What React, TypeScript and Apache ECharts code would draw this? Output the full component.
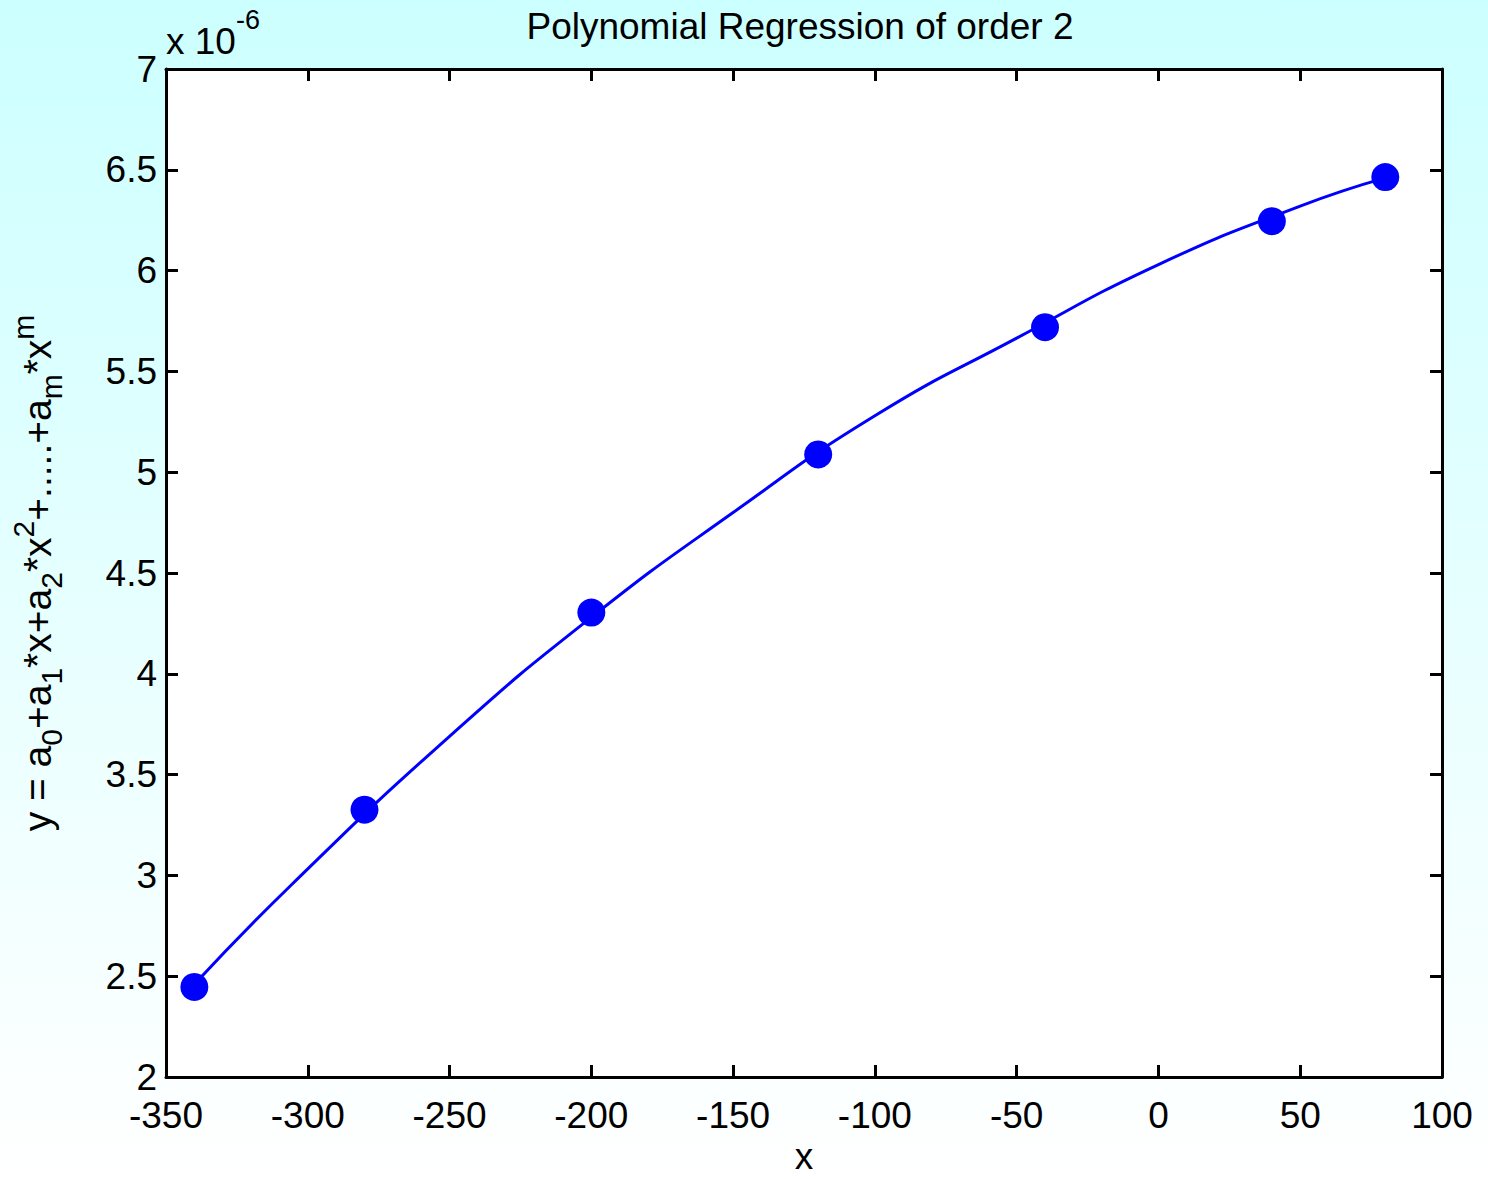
import React, { useEffect, useRef } from "react";
import * as echarts from "echarts";

const titleText = "Polynomial Regression of order 2";
const xTicks = [-350, 100, 50];
const yTicks = [2, 7, 0.5];
const dataX = [-340, -280, -200, -120, -40, 40, 80];
const dataY = [2.447, 3.326, 4.304, 5.088, 5.719, 6.245, 6.464];
const curveX = [-340, -306, -250, -200, -150, -100, -50, 0, 50, 80];
const curveY = [2.46, 2.95, 3.69, 4.28, 4.8, 5.28, 5.665, 6.03, 6.32, 6.46];

const FONT = "'Liberation Sans', Arial, sans-serif";
const FS = 37;

export default function App() {
  const ref = useRef<HTMLDivElement>(null);
  useEffect(() => {
    const chart = echarts.init(ref.current!, null, { renderer: "svg" });
    const tickStyle = { show: true, inside: true, length: 12, lineStyle: { color: "#000", width: 3 } };
    const axisLine = { show: true, onZero: false, lineStyle: { color: "#000", width: 3 } };
    chart.setOption({
      animation: false,
      backgroundColor: {
        type: "linear", x: 0, y: 0, x2: 0, y2: 1,
        colorStops: [
          { offset: 0, color: "#ccffff" },
          { offset: 1, color: "#ffffff" },
        ],
      },
      grid: {
        left: 166, right: 46, top: 69, bottom: 102,
        outerBoundsMode: "none", containLabel: false,
        show: true, backgroundColor: "#ffffff", borderWidth: 0,
      },
      graphic: [
        {
          type: "text", x: 800, y: 8,
          style: { text: titleText, fill: "#000", font: `${FS}px ${FONT}`, textAlign: "center" },
        },
        {
          type: "text", x: 166, y: 6,
          style: {
            text: "x 10{sup|-6}", fill: "#000", font: `${FS}px ${FONT}`,
            rich: { sup: { fontSize: 27, fontFamily: FONT, fill: "#000", padding: [0, 0, 44, 0] } },
          },
        },
      ],
      xAxis: [
        {
          type: "value", min: xTicks[0], max: xTicks[1], interval: xTicks[2],
          axisLine, axisTick: tickStyle, splitLine: { show: false },
          axisLabel: { color: "#000", fontSize: FS, fontFamily: FONT, margin: 23, lineHeight: 30 },
          name: "x", nameLocation: "middle", nameGap: 65,
          nameTextStyle: { color: "#000", fontSize: FS, fontFamily: FONT, lineHeight: 28 },
        },
        {
          type: "value", position: "top", min: xTicks[0], max: xTicks[1], interval: xTicks[2],
          axisLine, axisTick: tickStyle, splitLine: { show: false }, axisLabel: { show: false },
        },
      ],
      yAxis: [
        {
          type: "value", min: yTicks[0], max: yTicks[1], interval: yTicks[2],
          axisLine, axisTick: tickStyle, splitLine: { show: false },
          axisLabel: {
            color: "#000", fontSize: FS, fontFamily: FONT, margin: 9, lineHeight: 30,
            padding: [0, 0, 8, 0],
          },
          name: "y = a{sub|0}+a{sub|1}*x+a{sub|2}*x{sup|2}+.....+a{sub|m}*x{sup|m}",
          nameLocation: "middle", nameGap: 100, nameRotate: 90,
          nameTextStyle: {
            color: "#000", fontSize: 39, fontFamily: FONT,
            rich: {
              sub: { fontSize: 30, fontFamily: FONT, color: "#000", padding: [28, 0, 0, 0] },
              sup: { fontSize: 30, fontFamily: FONT, color: "#000", padding: [0, 0, 28, 0] },
            },
          },
        },
        {
          type: "value", position: "right", min: yTicks[0], max: yTicks[1], interval: yTicks[2],
          axisLine, axisTick: tickStyle, splitLine: { show: false }, axisLabel: { show: false },
        },
      ],
      series: [
        {
          type: "line", xAxisIndex: 0, yAxisIndex: 0,
          data: curveX.map((x, i) => [x, curveY[i]]),
          smooth: true, showSymbol: false, symbol: "none",
          lineStyle: { color: "#0000ff", width: 3 },
          z: 2,
        },
        {
          type: "scatter", xAxisIndex: 0, yAxisIndex: 0,
          data: dataX.map((x, i) => [x, dataY[i]]),
          symbol: "circle", symbolSize: 28,
          itemStyle: { color: "#0000ff", opacity: 1 },
          z: 3,
        },
      ],
    });
    return () => chart.dispose();
  }, []);
  return (
    <div
      ref={ref}
      style={{ position: "absolute", left: 0, top: 0, width: 1488, height: 1179 }}
    />
  );
}
